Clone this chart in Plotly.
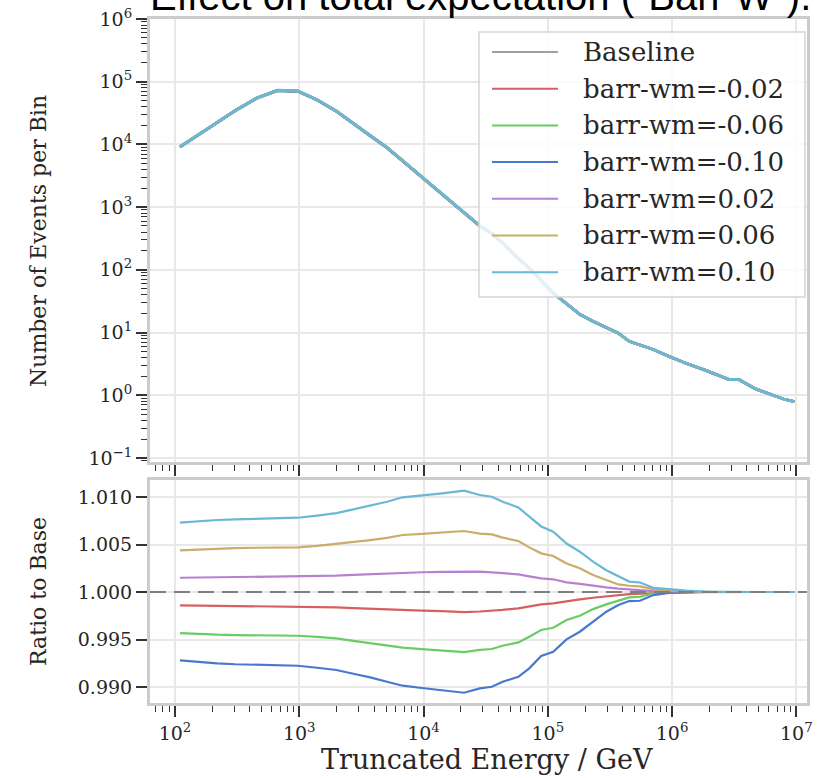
import plotly.graph_objects as go
from plotly.subplots import make_subplots
import numpy as np

# Bin centres (GeV)
energy_gev = [109.6, 156.3, 218.3, 305.5, 456, 667, 975, 1393, 1991, 2723,
              3724, 5082, 6792, 9705, 14190, 21230, 28380, 35480, 43350, 57940,
              70960, 88510, 110700, 141600, 181100, 231200, 295800, 369800, 451900, 552100,
              706300, 944100, 1.291e6, 1.845e6, 2.884e6, 3.443e6, 4.710e6, 7.889e6, 9.638e6]

# Baseline expectation per bin
baseline_counts = [9120, 14450, 22390, 34670, 54950, 72440, 70790, 51290, 33880, 21380,
                   13800, 8910, 5500, 3090, 1620, 832, 501, 380, 269, 151,
                   107, 67.6, 42.7, 28.8, 19.5, 15.1, 12.0, 9.77, 7.24, 6.31,
                   5.37, 4.17, 3.24, 2.51, 1.78, 1.78, 1.26, 0.87, 0.79]

# Ratio to baseline for each systematic variation
ratio_m002 = [0.99860, 0.99857, 0.99855, 0.99853, 0.99851, 0.99850, 0.99849, 0.99844, 0.99839, 0.99830,
              0.99822, 0.99816, 0.99811, 0.99805, 0.99799, 0.99789, 0.99795, 0.99800, 0.99812, 0.99828,
              0.99850, 0.99870, 0.99881, 0.99905, 0.99922, 0.99940, 0.99955, 0.99968, 0.99977, 0.99982,
              0.99990, 0.99993, 0.99998, 1.0, 1.0, 1.0, 1.0, 1.0, 1.0]
ratio_m006 = [0.99568, 0.99558, 0.99551, 0.99547, 0.99544, 0.99542, 0.99540, 0.99527, 0.99512, 0.99485,
              0.99460, 0.99436, 0.99414, 0.99400, 0.99386, 0.99368, 0.99392, 0.99400, 0.99435, 0.99470,
              0.99530, 0.99600, 0.99624, 0.99705, 0.99750, 0.99820, 0.99870, 0.99908, 0.99944, 0.99950,
              0.99986, 0.99993, 0.99998, 1.0, 1.0, 1.0, 1.0, 1.0, 1.0]
ratio_m010 = [0.99281, 0.99262, 0.99249, 0.99240, 0.99233, 0.99228, 0.99224, 0.99203, 0.99179, 0.99140,
              0.99102, 0.99055, 0.99014, 0.98990, 0.98968, 0.98940, 0.98986, 0.99003, 0.99056, 0.99108,
              0.99197, 0.99326, 0.99372, 0.99502, 0.99582, 0.99687, 0.99793, 0.99863, 0.99905, 0.99908,
              0.99968, 0.99990, 0.99996, 1.0, 1.0, 1.0, 1.0, 1.0, 1.0]
ratio_p002 = [1.00150, 1.00153, 1.00155, 1.00157, 1.00159, 1.00160, 1.00161, 1.00166, 1.00172, 1.00180,
              1.00188, 1.00196, 1.00203, 1.00208, 1.00213, 1.00218, 1.00214, 1.00207, 1.00198, 1.00186,
              1.00165, 1.00144, 1.00134, 1.00102, 1.00085, 1.00063, 1.00048, 1.00035, 1.00025, 1.00020,
              1.00010, 1.00007, 1.00002, 1.0, 1.0, 1.0, 1.0, 1.0, 1.0]
ratio_p006 = [1.00439, 1.00448, 1.00456, 1.00461, 1.00466, 1.00468, 1.00470, 1.00485, 1.00505, 1.00525,
              1.00547, 1.00570, 1.00600, 1.00612, 1.00628, 1.00642, 1.00615, 1.00607, 1.00572, 1.00537,
              1.00470, 1.00407, 1.00379, 1.00300, 1.00250, 1.00180, 1.00126, 1.00080, 1.00066, 1.00060,
              1.00030, 1.00014, 1.00005, 1.0, 1.0, 1.0, 1.0, 1.0, 1.0]
ratio_p010 = [1.00730, 1.00745, 1.00758, 1.00765, 1.00772, 1.00778, 1.00782, 1.00805, 1.00830, 1.00870,
              1.00910, 1.00950, 1.00997, 1.01015, 1.01039, 1.01066, 1.01021, 1.01003, 1.00950, 1.00890,
              1.00790, 1.00690, 1.00635, 1.00510, 1.00424, 1.00320, 1.00230, 1.00170, 1.00110, 1.00100,
              1.00045, 1.00030, 1.00014, 1.00005, 1.0, 1.0, 1.0, 1.0, 1.0]

labels = ["barr-wm=-0.02", "barr-wm=-0.06", "barr-wm=-0.10",
          "barr-wm=0.02", "barr-wm=0.06", "barr-wm=0.10"]
ratios = [ratio_m002, ratio_m006, ratio_m010, ratio_p002, ratio_p006, ratio_p010]
colors = ["#d65f5f", "#6acc64", "#4878d0", "#b881d0", "#c9ad69", "#6ab7d6"]
baseline_color = "#a0a0a0"

serif = "DejaVu Serif"
tick_font = dict(family=serif, size=19, color="#262626")

fig = make_subplots(rows=2, cols=1, shared_xaxes=True, vertical_spacing=0.0)

base = np.array(baseline_counts)
fig.add_trace(go.Scatter(x=energy_gev, y=base, mode="lines", name="Baseline",
                         line=dict(color=baseline_color, width=2.8)), row=1, col=1)
for lab, r, c in zip(labels, ratios, colors):
    fig.add_trace(go.Scatter(x=energy_gev, y=base * np.array(r), mode="lines", name=lab,
                             line=dict(color=c, width=2.8)), row=1, col=1)
    fig.add_trace(go.Scatter(x=energy_gev, y=r, mode="lines", name=lab, showlegend=False,
                             line=dict(color=c, width=2.2)), row=2, col=1)

# Layout geometry (pixels): plot area x 150..807, top panel y 19..462, bottom 480..703
W, H = 826, 778
ml, mr, mt, mb = 150, 19, 19, 75
pw = W - ml - mr
ph = H - mt - mb
top_h = 462 - 19
top_dom = [(703 - 462) / ph, 1.0]
bot_dom = [0.0, (703 - 480) / ph]

axis_common = dict(showline=True, linecolor="#cccccc", linewidth=3, mirror=True,
                   ticks="outside", tickcolor="#333333", tickwidth=1.5, ticklen=11,
                   showgrid=True, gridcolor="#e8e8e8", gridwidth=1.5, zeroline=False,
                   tickfont=tick_font, automargin=False)

xr = [1.799, 7.086]
fig.update_xaxes(type="log", range=xr, tickvals=[1e2, 1e3, 1e4, 1e5, 1e6, 1e7],
                 minor=dict(ticks="outside", ticklen=6, tickcolor="#333333", tickwidth=1.2,
                            dtick="D1", showgrid=False),
                 **axis_common)
fig.update_xaxes(showticklabels=False, row=1, col=1)
fig.update_xaxes(ticktext=["10<sup>2</sup>", "10<sup>3</sup>", "10<sup>4</sup>",
                           "10<sup>5</sup>", "10<sup>6</sup>", "10<sup>7</sup>"],
                 row=2, col=1)

ytop_vals = [1e-1, 1e0, 1e1, 1e2, 1e3, 1e4, 1e5, 1e6]
ytop_text = ["10<sup>\u22121</sup>", "10<sup>0</sup>", "10<sup>1</sup>", "10<sup>2</sup>",
             "10<sup>3</sup>", "10<sup>4</sup>", "10<sup>5</sup>", "10<sup>6</sup>"]
fig.update_yaxes(type="log", range=[-1.065, 6.0], tickvals=ytop_vals, ticktext=ytop_text,
                 minor=dict(ticks="outside", ticklen=6, tickcolor="#333333", tickwidth=1.2,
                            dtick="D1", showgrid=False),
                 domain=top_dom, row=1, col=1, **axis_common)
fig.update_yaxes(range=[0.98832, 1.01179], tickvals=[0.990, 0.995, 1.000, 1.005, 1.010],
                 tickformat=".3f", domain=bot_dom, row=2, col=1, **axis_common)

# Baseline ratio reference line
fig.add_shape(type="line", xref="x2 domain", yref="y2", x0=0, x1=1, y0=1.0, y1=1.0,
              line=dict(color="#808080", width=2.2, dash="16px,8px"), layer="above")

# Legend drawn in the top panel
fig.add_shape(type="rect", xref="x domain", yref="y domain",
              x0=(479 - ml) / pw, x1=(805 - ml) / pw,
              y0=(462 - 297) / top_h, y1=(462 - 32) / top_h,
              line=dict(color="#d5d5d5", width=1.5), fillcolor="rgba(255,255,255,0.8)",
              layer="above")
legend_names = ["Baseline"] + labels
legend_colors = [baseline_color] + colors
for i, (nm, c) in enumerate(zip(legend_names, legend_colors)):
    yy = (462 - (52 + i * 36.7)) / top_h
    fig.add_shape(type="line", xref="x domain", yref="y domain",
                  x0=(492 - ml) / pw, x1=(558 - ml) / pw, y0=yy, y1=yy,
                  line=dict(color=c, width=2), layer="above")
    fig.add_annotation(text=nm, xref="x domain", yref="y domain",
                       x=(581 - ml) / pw, y=yy, xanchor="left", yanchor="middle",
                       showarrow=False, font=dict(family=serif, size=26, color="#262626"))

# Axis titles
fig.add_annotation(text="Number of Events per Bin", xref="paper", yref="paper",
                   x=(38 - ml) / pw, y=(703 - 241) / ph, textangle=-90,
                   xanchor="center", yanchor="middle", showarrow=False,
                   font=dict(family=serif, size=22, color="#262626"))
fig.add_annotation(text="Ratio to Base", xref="paper", yref="paper",
                   x=(38 - ml) / pw, y=(703 - 592) / ph, textangle=-90,
                   xanchor="center", yanchor="middle", showarrow=False,
                   font=dict(family=serif, size=22, color="#262626"))
fig.add_annotation(text="Truncated Energy / GeV", xref="paper", yref="paper",
                   x=(487 - ml) / pw, y=(703 - 759) / ph,
                   xanchor="center", yanchor="middle", showarrow=False,
                   font=dict(family=serif, size=27, color="#262626"))

# Title, mostly cut off at the top edge as in the reference
fig.add_annotation(text="Effect on total expectation (\"Barr W\").", xref="paper", yref="paper",
                   x=(480 - ml) / pw, y=(703 - 20) / ph, xanchor="center", yanchor="bottom",
                   showarrow=False, font=dict(family="Liberation Sans", size=40, color="#000000"))

fig.update_layout(width=W, height=H, margin=dict(l=ml, r=mr, t=mt, b=mb, autoexpand=False),
                  plot_bgcolor="white", paper_bgcolor="white", showlegend=False)

# remove the default page margin so the figure sits at the window's top-left corner
fig.write_html("out.html", config={"displayModeBar": False},
               post_script="document.body.style.margin='0px';")
